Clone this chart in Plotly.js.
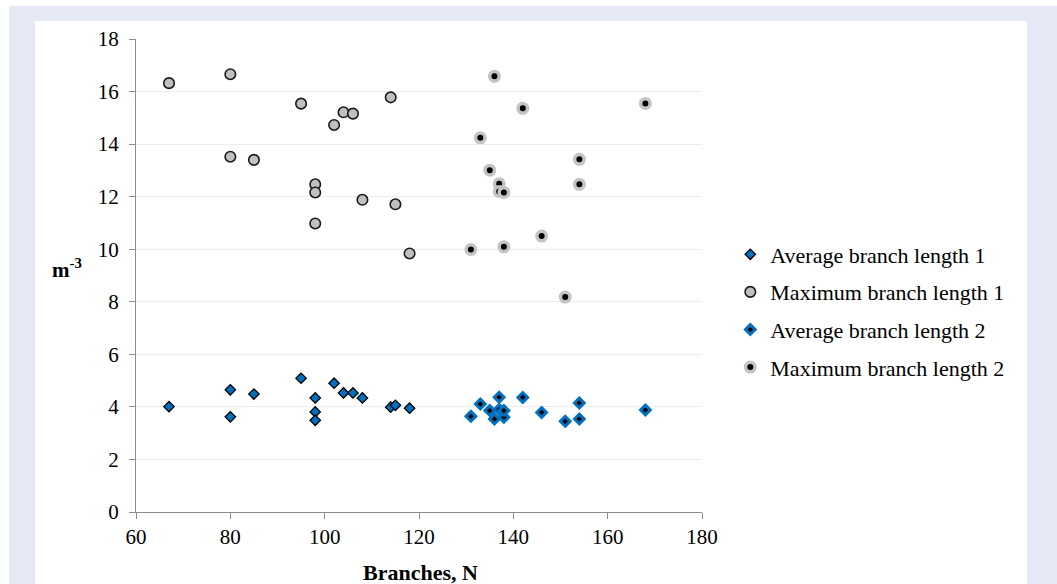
<!DOCTYPE html>
<html>
<head>
<meta charset="utf-8">
<script src="https://cdn.plot.ly/plotly-3.0.1.min.js"></script>
<style>
  html, body { margin: 0; padding: 0; background: #ffffff; width: 1057px; height: 584px; overflow: hidden; }
  #frame { position: absolute; left: 9px; top: 6px; width: 1048px; height: 578px; background: #e5e9f5; }
  #chart { position: absolute; left: 35px; top: 21px; width: 992px; height: 563px; }
</style>
</head>
<body>
<div id="frame"></div>
<div id="chart"></div>
<script>
// Series 1
const avg1X = [67, 80, 80, 85, 95, 98, 98, 98, 102, 104, 106, 108, 114, 115, 118];
const avg1Y = [4.01, 4.65, 3.62, 4.49, 5.09, 4.34, 3.81, 3.49, 4.90, 4.53, 4.53, 4.34, 3.99, 4.06, 3.95];
const max1X = [67, 80, 80, 85, 95, 98, 98, 98, 102, 104, 106, 108, 114, 115, 118];
const max1Y = [16.32, 16.66, 13.52, 13.40, 15.54, 12.47, 12.16, 10.98, 14.73, 15.21, 15.16, 11.88, 15.78, 11.71, 9.84];
// Series 2
const avg2X = [131, 133, 135, 136, 137, 137, 138, 138, 142, 146, 151, 154, 154, 168];
const avg2Y = [3.64, 4.11, 3.86, 3.54, 4.37, 3.90, 3.61, 3.86, 4.36, 3.79, 3.45, 4.15, 3.54, 3.88];
const max2X = [131, 133, 135, 136, 137, 137, 138, 138, 142, 146, 151, 154, 154, 168];
const max2Y = [9.99, 14.24, 13.01, 16.58, 12.49, 12.20, 12.16, 10.09, 15.36, 10.50, 8.18, 13.42, 12.47, 15.55];

const seriesNames = ["Average branch length 1", "Maximum branch length 1", "Average branch length 2", "Maximum branch length 2"];
const xTitle = "Branches, N";

const FONT = 'Liberation Serif';

const traces = [
  { x: avg1X, y: avg1Y, name: seriesNames[0], type: 'scatter', mode: 'markers', legendgroup: 'a',
    marker: { symbol: 'diamond', size: 8, color: '#0070c0', line: { color: '#000000', width: 1.3 } } },
  { x: max1X, y: max1Y, name: seriesNames[1], type: 'scatter', mode: 'markers', legendgroup: 'b',
    marker: { symbol: 'circle', size: 10.5, color: '#c0c0c0', line: { color: '#1a1a1a', width: 1.6 } } },
  { x: avg2X, y: avg2Y, name: seriesNames[2], type: 'scatter', mode: 'markers', legendgroup: 'c',
    marker: { symbol: 'diamond', size: 7.5, color: '#000000', line: { color: '#0070c0', width: 3 } } },
  { x: max2X, y: max2Y, name: seriesNames[3], type: 'scatter', mode: 'markers', legendgroup: 'd',
    marker: { symbol: 'circle', size: 9.5, color: '#000000', line: { color: '#c4c4c4', width: 3.5 } } }
];

const layout = {
  width: 992, height: 563,
  paper_bgcolor: '#ffffff', plot_bgcolor: '#ffffff',
  margin: { l: 100.5, r: 324.5, t: 18, b: 72.3 },
  font: { family: FONT, size: 21, color: '#000000' },
  showlegend: true,
  legend: {
    x: 1.05, xanchor: 'left', y: 0.425, yanchor: 'middle',
    font: { family: FONT, size: 22, color: '#000000' },
    tracegroupgap: 6, bgcolor: 'rgba(0,0,0,0)', itemwidth: 30
  },
  xaxis: {
    range: [60, 180], tick0: 60, dtick: 20, showgrid: false, zeroline: false,
    showline: true, linecolor: '#8c8c8c', linewidth: 1,
    ticks: 'outside', ticklen: 6, tickcolor: '#8c8c8c', tickwidth: 1,
    tickfont: { family: FONT, size: 21, color: '#000000' }
  },
  yaxis: {
    range: [0, 18], tick0: 0, dtick: 2, showgrid: true, gridcolor: '#ececec', gridwidth: 1,
    zeroline: false, showline: true, linecolor: '#8c8c8c', linewidth: 1,
    ticks: 'outside', ticklen: 6, tickcolor: '#8c8c8c', tickwidth: 1,
    ticklabelstandoff: 6,
    tickfont: { family: FONT, size: 21, color: '#000000' }
  },
  annotations: [
    { text: '<b>' + xTitle + '</b>', xref: 'paper', yref: 'paper', x: 0.502, y: -0.128,
      xanchor: 'center', yanchor: 'middle', showarrow: false,
      font: { family: FONT, size: 22, color: '#000000' } },
    { text: '<b>m</b><b><sup>-3</sup></b>', xref: 'paper', yref: 'paper', x: -0.1226, y: 0.515,
      xanchor: 'center', yanchor: 'middle', showarrow: false,
      font: { family: FONT, size: 21, color: '#000000' } }
  ]
};

Plotly.newPlot('chart', traces, layout, { displayModeBar: false, staticPlot: true });
</script>
</body>
</html>
